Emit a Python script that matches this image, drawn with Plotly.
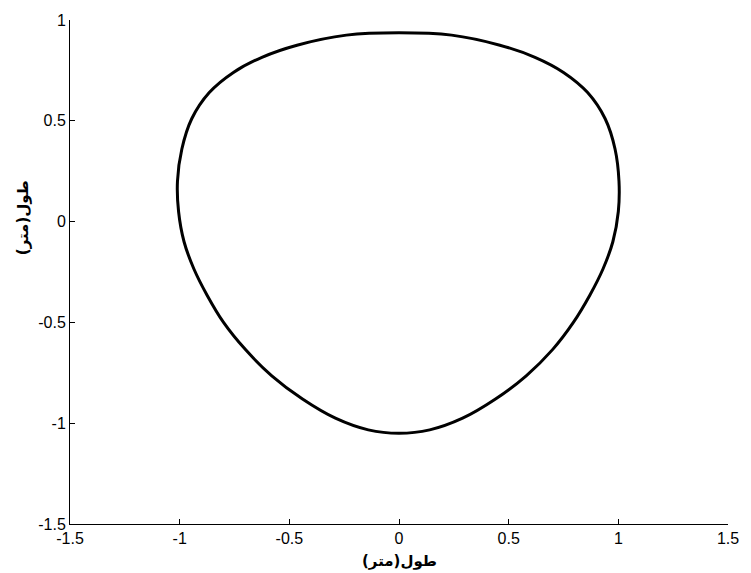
import plotly.graph_objects as go

# Closed trajectory, read clockwise starting at the top (metres)
x_m = [0.00, 0.24, 0.46, 0.62, 0.75, 0.86, 0.94, 0.985, 1.003, 1.00, 0.975,
       0.93, 0.87, 0.795, 0.70, 0.58, 0.44, 0.29, 0.14, 0.00,
       -0.14, -0.29, -0.44, -0.58, -0.70, -0.80, -0.875, -0.935, -0.98, -1.005,
       -1.010, -0.99, -0.945, -0.865, -0.755, -0.625, -0.465, -0.24, 0.00]
y_m = [0.937, 0.925, 0.875, 0.815, 0.74, 0.64, 0.51, 0.36, 0.20, 0.05, -0.10,
       -0.235, -0.365, -0.50, -0.635, -0.765, -0.88, -0.975, -1.033, -1.05,
       -1.033, -0.975, -0.88, -0.765, -0.635, -0.50, -0.365, -0.235, -0.10, 0.05,
       0.20, 0.36, 0.51, 0.64, 0.74, 0.815, 0.875, 0.925, 0.937]

x_ticks = [-1.5, -1, -0.5, 0, 0.5, 1, 1.5]
x_tick_text = ["-1.5", "-1", "-0.5", "0", "0.5", "1", "1.5"]
y_ticks = [-1.5, -1, -0.5, 0, 0.5, 1]
y_tick_text = ["-1.5", "-1", "-0.5", "0", "0.5", "1"]

axis_title = "<b>طول(متر)</b>"

fig = go.Figure()
fig.add_trace(go.Scatter(
    x=x_m, y=y_m, mode="lines",
    line=dict(color="black", width=3, shape="spline", smoothing=1.0),
    hoverinfo="skip", showlegend=False,
))

tick_font = dict(family="Liberation Sans, Arial, sans-serif", size=16, color="black")
title_font = dict(family="DejaVu Sans, sans-serif", size=15, color="black")

common = dict(
    showgrid=False, zeroline=False, showline=True, linecolor="black",
    linewidth=1, ticks="inside", ticklen=5, tickwidth=1, tickcolor="black",
    tickfont=tick_font, mirror=False,
)

fig.update_layout(
    width=751, height=573,
    margin=dict(l=70, r=15, t=20, b=49),
    paper_bgcolor="white", plot_bgcolor="white",
    xaxis=dict(range=[-1.5, 1.5], tickvals=x_ticks, ticktext=x_tick_text, **common),
    yaxis=dict(range=[-1.5, 1], tickvals=y_ticks, ticktext=y_tick_text, **common),
)

# Axis titles
fig.add_annotation(text=axis_title, font=title_font, showarrow=False,
                   xref="paper", yref="paper", x=0.5, y=-0.0734,
                   xanchor="center", yanchor="middle")
fig.add_annotation(text=axis_title, font=title_font, showarrow=False,
                   xref="paper", yref="y", x=-0.072, y=0.02, textangle=-90,
                   xanchor="center", yanchor="middle")

fig.write_html("out.html")
